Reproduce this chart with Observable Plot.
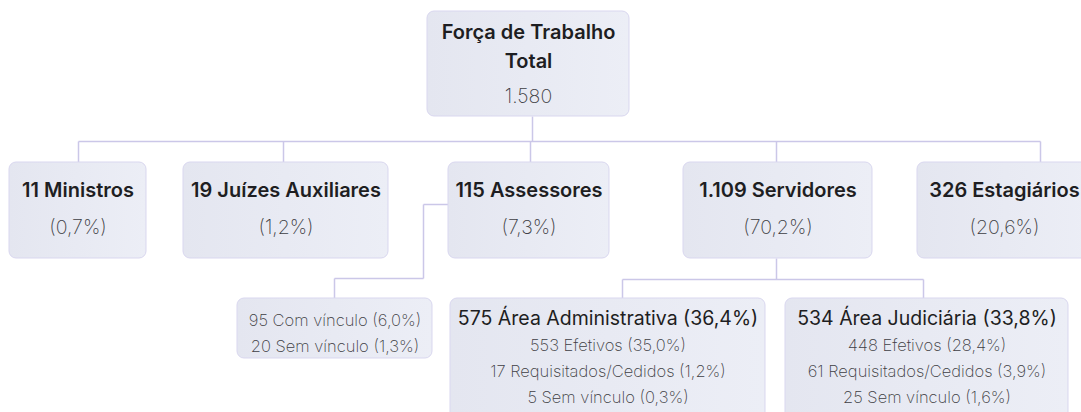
<!DOCTYPE html>
<html>
<head>
<meta charset="utf-8">
<script src="https://cdn.jsdelivr.net/npm/d3@7"></script>
<script src="https://cdn.jsdelivr.net/npm/@observablehq/plot@0.6"></script>
<style>
  html, body { margin: 0; padding: 0; background: #fff; overflow: hidden; }
  #chart { width: 1081px; height: 412px; }
  #chart svg { display: block; overflow: hidden; }
</style>
</head>
<body>
<div id="chart"></div>
<script>
// ---------------- DATA ----------------
const rootTitleLines = ["Força de Trabalho", "Total"];
const totalCount = 1580;

const groupNames  = ["Ministros", "Juízes Auxiliares", "Assessores", "Servidores", "Estagiários"];
const groupCounts = [11, 19, 115, 1109, 326];
const groupShares = [0.7, 1.2, 7.3, 70.2, 20.6];

const assessorTypes  = ["Com vínculo", "Sem vínculo"];
const assessorCounts = [95, 20];
const assessorShares = [6.0, 1.3];

const areaNames  = ["Área Administrativa", "Área Judiciária"];
const areaCounts = [575, 534];
const areaShares = [36.4, 33.8];

const bondTypes    = ["Efetivos", "Requisitados/Cedidos", "Sem vínculo"];
const adminCounts  = [553, 17, 5];
const adminShares  = [35.0, 1.2, 0.3];
const judicCounts  = [448, 61, 25];
const judicShares  = [28.4, 3.9, 1.6];

// ---------------- FORMAT ----------------
const ptBR = d3.formatLocale({decimal: ",", thousands: ".", grouping: [3], currency: ["R$ ", ""]});
const fInt = ptBR.format(",d");
const fPct = ptBR.format(".1f");
const pct = v => `(${fPct(v)}%)`;

// ---------------- LAYOUT (geometry only) ----------------
const W = 1081, H = 412;
const rootBox = {x1: 427, x2: 629, y1: 11, y2: 116, cx: 528, port: 532};
const lvl1Top = 162, lvl1Bottom = 258, busY = 141;
const lvl1Boxes = [
  {x1: 9,   x2: 146,  cx: 77.5,  port: 78},
  {x1: 183, x2: 388,  cx: 285.5, port: 283},
  {x1: 448, x2: 609,  cx: 528.5, port: 530},
  {x1: 683, x2: 872,  cx: 777.5, port: 776},
  {x1: 917, x2: 1095, cx: 1004,  port: 1040}
];
const lvl2Top = 298, subBusY = 279;
const assessorBox = {x1: 237, x2: 432, y2: 358, cx: 334.5, port: 334};
const areaBoxes = [
  {x1: 450, x2: 765, y2: 425, cx: 607.5, port: 622},
  {x1: 785, x2: 1068, y2: 425, cx: 926.5, port: 923}
];

// boxes
const boxes = [
  {x1: rootBox.x1, x2: rootBox.x2, y1: rootBox.y1, y2: rootBox.y2},
  ...lvl1Boxes.map(b => ({x1: b.x1, x2: b.x2, y1: lvl1Top, y2: lvl1Bottom})),
  {x1: assessorBox.x1, x2: assessorBox.x2, y1: lvl2Top, y2: assessorBox.y2},
  ...areaBoxes.map(b => ({x1: b.x1, x2: b.x2, y1: lvl2Top, y2: b.y2}))
];

// connectors
const links = [
  {x1: rootBox.port, y1: rootBox.y2, x2: rootBox.port, y2: busY},
  {x1: lvl1Boxes[0].port, y1: busY, x2: lvl1Boxes[4].port, y2: busY},
  ...lvl1Boxes.map(b => ({x1: b.port, y1: busY, x2: b.port, y2: lvl1Top})),
  {x1: lvl1Boxes[2].x1, y1: 204, x2: 423, y2: 204},
  {x1: 423, y1: 204, x2: 423, y2: 278},
  {x1: 423, y1: 278, x2: assessorBox.port, y2: 278},
  {x1: assessorBox.port, y1: 278, x2: assessorBox.port, y2: lvl2Top},
  {x1: lvl1Boxes[3].port, y1: lvl1Bottom, x2: lvl1Boxes[3].port, y2: subBusY},
  {x1: areaBoxes[0].port, y1: subBusY, x2: areaBoxes[1].port, y2: subBusY},
  ...areaBoxes.map(b => ({x1: b.port, y1: subBusY, x2: b.port, y2: lvl2Top}))
];

// text rows
const boldTexts = [
  {x: rootBox.cx, y: 32, t: rootTitleLines[0]},
  {x: rootBox.cx, y: 61, t: rootTitleLines[1]},
  ...lvl1Boxes.map((b, i) => ({x: b.cx, y: 190, t: `${fInt(groupCounts[i])} ${groupNames[i]}`}))
];
const lightBig = [
  {x: rootBox.cx, y: 96, t: fInt(totalCount)},
  ...lvl1Boxes.map((b, i) => ({x: b.cx, y: 227, t: pct(groupShares[i])}))
];
const areaTitles = areaBoxes.map((b, i) => ({x: b.cx, y: 318, t: `${fInt(areaCounts[i])} ${areaNames[i]} ${pct(areaShares[i])}`}));
const smallTexts = [
  ...assessorTypes.map((n, i) => ({x: assessorBox.cx, y: 320 + i * 26, t: `${fInt(assessorCounts[i])} ${n} ${pct(assessorShares[i])}`})),
  ...bondTypes.map((n, i) => ({x: areaBoxes[0].cx, y: 345 + i * 26, t: `${fInt(adminCounts[i])} ${n} ${pct(adminShares[i])}`})),
  ...bondTypes.map((n, i) => ({x: areaBoxes[1].cx, y: 345 + i * 26, t: `${fInt(judicCounts[i])} ${n} ${pct(judicShares[i])}`}))
];

const font = "Inter, 'Noto Sans', sans-serif";

const plot = Plot.plot({
  width: W, height: H,
  margin: 0,
  style: {fontFamily: font, background: "#fff"},
  x: {domain: [0, W], range: [0, W], axis: null},
  y: {domain: [0, H], range: [0, H], axis: null},
  marks: [
    Plot.link(links, {x1: "x1", y1: "y1", x2: "x2", y2: "y2", stroke: "#cbc7e8", strokeWidth: 1.5}),
    Plot.rect(boxes, {x1: "x1", x2: "x2", y1: "y1", y2: "y2", fill: "url(#boxFill)", stroke: "#d9d7ef", strokeWidth: 1, rx: 7, ariaLabel: "box"}),
    Plot.text(boldTexts, {x: "x", y: "y", text: "t", fontSize: 20, fontWeight: 600, fill: "#1e1e22", ariaLabel: "bold"}),
    Plot.text(lightBig, {x: "x", y: "y", text: "t", fontSize: 19.5, fontWeight: 200, fill: "#3e3e44", ariaLabel: "light"}),
    Plot.text(areaTitles, {x: "x", y: "y", text: "t", fontSize: 19.5, fontWeight: 400, fill: "#1e1e22", ariaLabel: "area"}),
    Plot.text(smallTexts, {x: "x", y: "y", text: "t", fontSize: 16.5, fontWeight: 200, fill: "#3e3e44", ariaLabel: "small"})
  ]
});

const svg = d3.select(plot);
const defs = svg.insert("defs", ":first-child");
const g = defs.append("linearGradient").attr("id", "boxFill").attr("x1", "0").attr("x2", "1").attr("y1", "0").attr("y2", "0");
g.append("stop").attr("offset", "0%").attr("stop-color", "#e4e6f0");
g.append("stop").attr("offset", "100%").attr("stop-color", "#eceef6");
svg.selectAll('g[aria-label="box"] rect').style("filter", "drop-shadow(4px 5px 6px rgba(70,70,110,0.07))");
svg.selectAll('g[aria-label="bold"] text, g[aria-label="area"] text').style("letter-spacing", "-0.02em");
svg.selectAll('g[aria-label="light"] text, g[aria-label="small"] text').style("letter-spacing", "-0.03em");

document.getElementById("chart").appendChild(plot);
</script>
</body>
</html>
